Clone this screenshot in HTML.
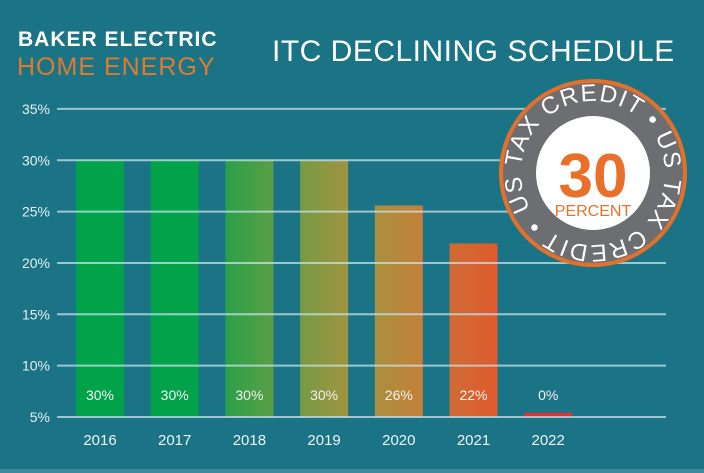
<!DOCTYPE html>
<html><head><meta charset="utf-8"><style>
html,body{margin:0;padding:0;background:#1b7386;}
svg{display:block;font-family:"Liberation Sans",sans-serif;}
</style></head><body>
<svg id="chart" width="704" height="473" viewBox="0 0 704 473">
<defs>
<linearGradient id="g0"><stop offset="0" stop-color="#00a24a"/><stop offset="1" stop-color="#00a24a"/></linearGradient>
<linearGradient id="g1"><stop offset="0" stop-color="#00a24a"/><stop offset="1" stop-color="#04a24a"/></linearGradient>
<linearGradient id="g2"><stop offset="0" stop-color="#2aa049"/><stop offset="1" stop-color="#5a9f45"/></linearGradient>
<linearGradient id="g3"><stop offset="0" stop-color="#779a45"/><stop offset="1" stop-color="#a1943f"/></linearGradient>
<linearGradient id="g4"><stop offset="0" stop-color="#a8903e"/><stop offset="1" stop-color="#c57f38"/></linearGradient>
<linearGradient id="g5"><stop offset="0" stop-color="#cf6c36"/><stop offset="1" stop-color="#e05a2c"/></linearGradient>
<linearGradient id="g6"><stop offset="0" stop-color="#e8302a"/><stop offset="1" stop-color="#e8302a"/></linearGradient>
<path id="ring" d="M 530.6 209 A 72 72 0 1 1 655.4 137 A 72 72 0 1 1 530.6 209"/>
</defs>
<rect x="0" y="0" width="704" height="473" fill="#1b7386"/>
<rect x="0" y="469" width="704" height="4" fill="#3b8a9c"/>
<text x="18" y="46" font-size="21" font-weight="bold" fill="#ffffff" letter-spacing="1">BAKER ELECTRIC</text>
<text x="17" y="75" font-size="25" fill="#e07a2e" letter-spacing="1">HOME ENERGY</text>
<text x="272" y="61" font-size="30" fill="#ffffff" letter-spacing="0.5">ITC DECLINING SCHEDULE</text>
<g id="grid"></g>
<g id="bars"></g>
<g id="labels"></g>
<g id="lines"></g>
<g>
<circle cx="593" cy="173" r="94" fill="#e3712c"/>
<circle cx="593" cy="173" r="90" fill="#6d6e71"/>
<circle cx="593" cy="173" r="57" fill="#ffffff"/>
<text font-size="24" fill="#ffffff"><textPath href="#ring" textLength="440" lengthAdjust="spacing">US TAX CREDIT • US TAX CREDIT •</textPath></text>
<text x="593" y="197" font-size="62" font-weight="bold" fill="#e8702a" text-anchor="middle">30</text>
<text x="593" y="216" font-size="16" fill="#e8702a" text-anchor="middle">PERCENT</text>
</g>
</svg>
<script>
const categories=["2016","2017","2018","2019","2020","2021","2022"];
const values=[30,30,30,30,25.6,21.9,5.4];
const valueLabels=["30%","30%","30%","30%","26%","22%","0%"];
const ticks=[5,10,15,20,25,30,35];
const tickLabels=["5%","10%","15%","20%","25%","30%","35%"];
const NS="http://www.w3.org/2000/svg";
const y0=417,pxPer=10.27,yMin=5;
function y(v){return y0-(v-yMin)*pxPer;}
const x0=76,step=74.7,bw=48;
function x(i){return x0+i*step;}
function mk(t,a,p){const e=document.createElementNS(NS,t);for(const k in a)e.setAttribute(k,a[k]);p.appendChild(e);return e;}
const grid=document.getElementById('grid'),bars=document.getElementById('bars'),labels=document.getElementById('labels'),lines=document.getElementById('lines');
ticks.forEach((t,i)=>{
 const tx=mk('text',{x:50,y:y(t)+5,'font-size':14,fill:'#e6f0f2','text-anchor':'end'},grid);
 tx.textContent=tickLabels[i];
 
 
 const l=mk('line',{x1:57,x2:666,y1:y(t),y2:y(t),stroke:'#c8e2e8','stroke-width':2,'stroke-opacity':0.75},lines);
 
 
});
categories.forEach((c,i)=>{
 const r=mk('rect',{x:x(i),y:y(values[i]),width:bw,height:y0-y(values[i]),fill:'url(#g'+i+')'},bars);
 
 
 const v=mk('text',{x:x(i)+bw/2,y:400,'font-size':14,fill:'#f2f2f2','text-anchor':'middle'},labels);
 v.textContent=valueLabels[i];
 
 
 const cl=mk('text',{x:x(i)+bw/2,y:445,'font-size':15,fill:'#eef4f5','text-anchor':'middle'},labels);
 cl.textContent=c;
 
 
});
</script>
</body></html>
